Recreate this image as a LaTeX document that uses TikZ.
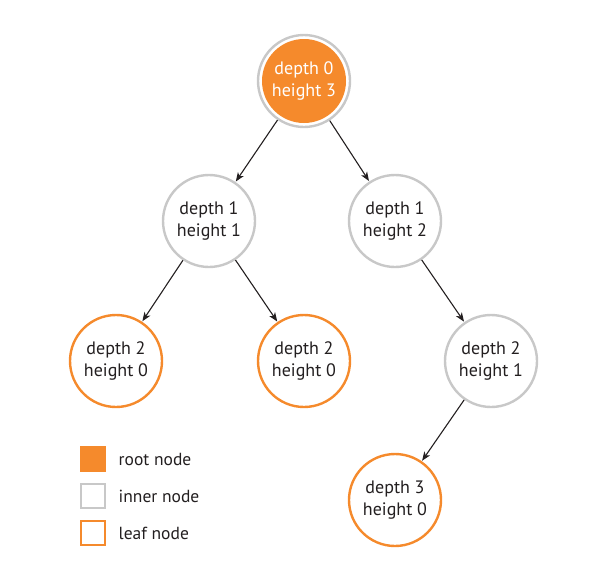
\documentclass[tikz,border=0pt]{standalone}
\usepackage{fontspec}
\setmainfont{PT Sans}
\usetikzlibrary{arrows.meta, positioning}
\definecolor{corange}{HTML}{F58A2C}
\definecolor{cgrey}{HTML}{C8C8C8}
\definecolor{ctext}{HTML}{231F20}
\tikzset{
  every picture/.style={line width=2.4pt},
  tnode/.style={circle, draw=#1, fill=white, minimum size=92pt, inner sep=0pt, align=center,
    text=ctext, font=\fontsize{18}{22}\selectfont},
  tnode/.default=cgrey,
  rootnode/.style={tnode, text=white,
    path picture={\fill[corange] (path picture bounding box.center) circle (42pt);}},
  arrow/.style={-{Stealth[length=9pt, width=7pt, inset=2.5pt]}, draw=ctext, line width=1.1pt, shorten >=0.5pt},
  keybox/.style={rectangle, draw=#1, minimum size=24pt, inner sep=0pt},
  keytext/.style={right, text=ctext, font=\fontsize{17.5}{21}\selectfont},
}

\begin{document}
\begin{tikzpicture}[x=1pt, y=-1pt]
  \useasboundingbox (0,0) rectangle (593,573);
  % tree
  \node[rootnode]      (d0)  at (304,81)  {depth 0\\height 3};
  \node[tnode]         (d1a) at (209,221) {depth 1\\height 1};
  \node[tnode]         (d1b) at (395,221) {depth 1\\height 2};
  \node[tnode=corange] (d2a) at (116,361) {depth 2\\height 0};
  \node[tnode=corange] (d2b) at (304,361) {depth 2\\height 0};
  \node[tnode]         (d2c) at (491,361) {depth 2\\height 1};
  \node[tnode=corange] (d3)  at (395,500) {depth 3\\height 0};
  \draw[arrow] (d0) -- (d1a);
  \draw[arrow] (d0) -- (d1b);
  \draw[arrow] (d1a) -- (d2a);
  \draw[arrow] (d1a) -- (d2b);
  \draw[arrow] (d1b) -- (d2c);
  \draw[arrow] (d2c) -- (d3);
  % legend
  \node[keybox=corange, fill=corange] (kroot)  at (93,459) {};
  \node[keybox=cgrey]                 (kinner) at (93,496) {};
  \node[keybox=corange]               (kleaf)  at (93,533) {};
  \node[keytext, right=8pt of kroot]  (troot)  {root node};
  \node[keytext, right=8pt of kinner] (tinner) {inner node};
  \node[keytext, right=8pt of kleaf]  (tleaf)  {leaf node};
\end{tikzpicture}
\end{document}
